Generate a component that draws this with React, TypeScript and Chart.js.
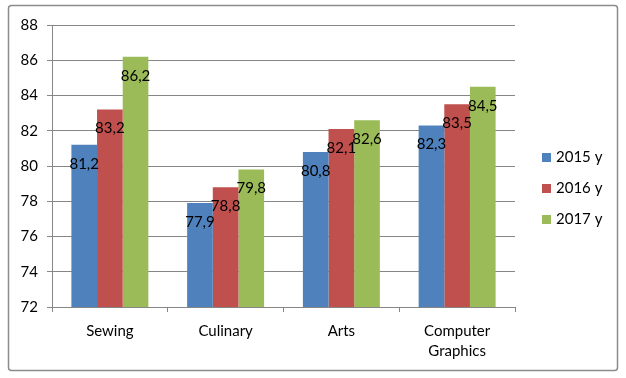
import React, { useEffect, useRef } from "react";
import { Chart, registerables } from "chart.js";

Chart.register(...registerables);

const categories: (string | string[])[] = ["Sewing", "Culinary", "Arts", ["Computer", "Graphics"]];
const seriesNames = ["2015 y", "2016 y", "2017 y"];
const values2015 = [81.2, 77.9, 80.8, 82.3];
const values2016 = [83.2, 78.8, 82.1, 83.5];
const values2017 = [86.2, 79.8, 82.6, 84.5];
const colors = ["#4F81BD", "#C0504D", "#9BBB59"];
const yMin = 72;
const yMax = 88;
const yStep = 2;

const FONT = "Lato, 'Open Sans', sans-serif";

const framePlugin = {
  id: "frame",
  beforeDraw(chart: any) {
    const ctx = chart.ctx;
    ctx.save();
    ctx.fillStyle = "#ffffff";
    ctx.fillRect(0, 0, chart.width, chart.height);
    ctx.strokeStyle = "#8c8c8c";
    ctx.lineWidth = 1.5;
    const x = 8.5, y = 5.5, w = 609, h = 365, r = 3;
    ctx.beginPath();
    ctx.moveTo(x + r, y);
    ctx.lineTo(x + w - r, y);
    ctx.arcTo(x + w, y, x + w, y + r, r);
    ctx.lineTo(x + w, y + h - r);
    ctx.arcTo(x + w, y + h, x + w - r, y + h, r);
    ctx.lineTo(x + r, y + h);
    ctx.arcTo(x, y + h, x, y + h - r, r);
    ctx.lineTo(x, y + r);
    ctx.arcTo(x, y, x + r, y, r);
    ctx.closePath();
    ctx.stroke();
    ctx.restore();
  },
};

const labelsPlugin = {
  id: "barLabels",
  afterDatasetsDraw(chart: any) {
    const ctx = chart.ctx;
    ctx.save();
    ctx.font = `15px ${FONT}`;
    ctx.fillStyle = "#000000";
    ctx.textAlign = "center";
    ctx.textBaseline = "middle";
    chart.data.datasets.forEach((ds: any, di: number) => {
      const meta = chart.getDatasetMeta(di);
      meta.data.forEach((bar: any, i: number) => {
        const v = ds.data[i] as number;
        const txt = v.toFixed(1).replace(".", ",");
        ctx.fillText(txt, bar.x, bar.y + 19);
      });
    });
    ctx.restore();
  },
};

const legendPlugin = {
  id: "customLegend",
  afterDraw(chart: any) {
    const ctx = chart.ctx;
    ctx.save();
    ctx.font = `15px ${FONT}`;
    ctx.textAlign = "left";
    ctx.textBaseline = "middle";
    const startY = 157.5;
    const gap = 31;
    seriesNames.forEach((name, i) => {
      const cy = startY + i * gap;
      ctx.fillStyle = colors[i];
      ctx.fillRect(542, cy - 4.5, 9, 9);
      ctx.fillStyle = "#000000";
      ctx.fillText(name, 556, cy);
    });
    ctx.restore();
  },
};

export default function App() {
  const ref = useRef<HTMLCanvasElement>(null);
  useEffect(() => {
    document.body.style.margin = "0";
    const canvas = ref.current!;
    const chart = new Chart(canvas, {
      type: "bar",
      data: {
        labels: categories,
        datasets: [values2015, values2016, values2017].map((d, i) => ({
          label: seriesNames[i],
          data: d,
          backgroundColor: colors[i],
          borderWidth: 0,
          categoryPercentage: 0.665,
          barPercentage: 1,
        })),
      },
      options: {
        animation: false,
        responsive: false,
        maintainAspectRatio: false,
        layout: { padding: { left: 0, top: 25, right: 111, bottom: 0 } },
        plugins: {
          legend: { display: false },
          tooltip: { enabled: false },
        },
        scales: {
          x: {
            afterFit(scale: any) {
              scale.height = 71;
            },
            grid: {
              drawOnChartArea: false,
              drawTicks: true,
              tickLength: 5,
              color: "#868686",
            },
            border: { display: true, color: "#868686", width: 1 },
            ticks: {
              font: { family: FONT, size: 15, lineHeight: 1.35 },
              color: "#000000",
              padding: 9,
              maxRotation: 0,
            },
          },
          y: {
            min: yMin,
            max: yMax,
            afterFit(scale: any) {
              scale.width = 52;
            },
            grid: {
              color: "#868686",
              drawTicks: true,
              tickLength: 5,
            },
            border: { display: true, color: "#868686", width: 1 },
            ticks: {
              stepSize: yStep,
              font: { family: FONT, size: 15 },
              color: "#000000",
              padding: 9,
            },
          },
        },
      },
      plugins: [framePlugin, labelsPlugin, legendPlugin],
    });
    return () => chart.destroy();
  }, []);
  return (
    <div style={{ width: 626, height: 378 }}>
      <canvas ref={ref} width={626} height={378} style={{ display: "block" }} />
    </div>
  );
}
